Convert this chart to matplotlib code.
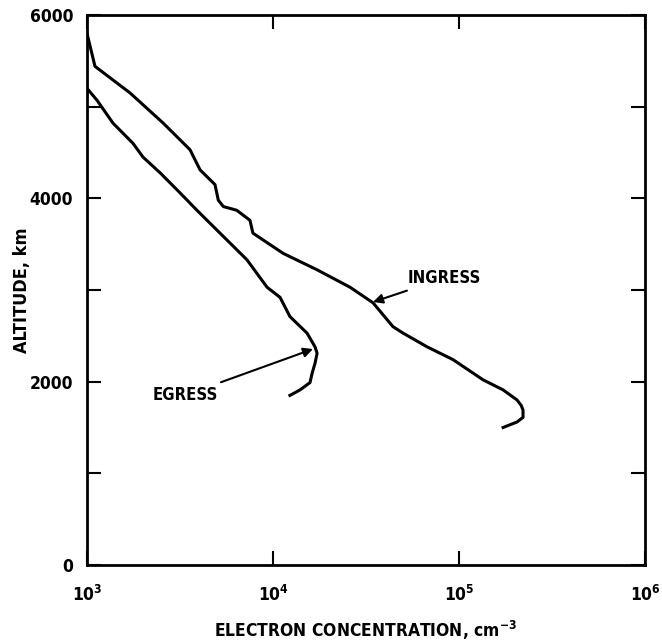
import matplotlib
matplotlib.use("Agg")
import matplotlib.pyplot as plt
from matplotlib.ticker import FixedLocator, NullFormatter

plt.rcParams['font.family'] = ['DejaVu Sans']
plt.rcParams['font.weight'] = 'bold'
plt.rcParams['axes.labelweight'] = 'bold'
plt.rcParams['font.stretch'] = 'condensed'
plt.rcParams['mathtext.default'] = 'regular'

# ingress profile: electron concentration (cm^-3) vs altitude (km)
ingress_ne = [1000, 1104, 1703, 2571, 3580, 4055, 4876, 5080, 5410, 6380, 7520, 7800,
              11330, 17260, 25950, 34500, 44150, 49980, 67300, 92900, 134600,
              172600, 205000, 216000, 220800, 220800, 205000, 172600]
ingress_alt = [5800, 5440, 5150, 4820, 4530, 4310, 4150, 3980, 3910, 3870, 3760, 3620,
               3400, 3220, 3030, 2860, 2600, 2530, 2380, 2240, 2020,
               1910, 1800, 1740, 1690, 1610, 1560, 1500]

# egress profile
egress_ne = [1000, 1132, 1380, 1767, 2000, 2467, 3162, 3900, 5190, 7240, 9290, 10910,
             12330, 15230, 16820, 17260, 16820, 16220, 15810, 13970, 12330]
egress_alt = [5200, 5070, 4820, 4600, 4450, 4280, 4060, 3870, 3620, 3330, 3030, 2920,
              2710, 2530, 2380, 2310, 2200, 2090, 1990, 1910, 1850]

x_ticks = [1e3, 1e4, 1e5, 1e6]
x_labels = ['$10^3$', '$10^4$', '$10^5$', '$10^6$']
y_major = [0, 2000, 4000, 6000]
y_minor = [1000, 3000, 5000]

fig = plt.figure(figsize=(6.62, 6.41), dpi=100)
ax = fig.add_axes([0.1314, 0.1186, 0.843, 0.858])

ax.plot(ingress_ne, ingress_alt, color='black', lw=2.2, solid_joinstyle='round')
ax.plot(egress_ne, egress_alt, color='black', lw=2.2, solid_joinstyle='round')

ax.set_xscale('log')
ax.set_xlim(1e3, 1e6)
ax.set_ylim(0, 6000)

ax.xaxis.set_major_locator(FixedLocator(x_ticks))
ax.set_xticklabels(x_labels)
ax.xaxis.set_minor_locator(FixedLocator([]))
ax.xaxis.set_minor_formatter(NullFormatter())
ax.yaxis.set_major_locator(FixedLocator(y_major))
ax.yaxis.set_minor_locator(FixedLocator(y_minor))

ax.tick_params(which='both', direction='in', top=True, right=True,
               width=1.5, length=10, labelsize=12.5)
ax.tick_params(axis='x', pad=14)
ax.tick_params(axis='y', pad=10)
for s in ax.spines.values():
    s.set_linewidth(2)

ax.set_xlabel('ELECTRON CONCENTRATION, cm$^{-3}$', fontsize=12.5)
ax.xaxis.set_label_coords(0.5, -0.098)
ax.set_ylabel('ALTITUDE, km', fontsize=13)
ax.yaxis.set_label_coords(-0.1, 0.5)

ax.annotate('EGRESS', xy=(16400, 2356), xytext=(2265, 1855),
            fontsize=12, ha='left', va='center',
            arrowprops=dict(arrowstyle='-|>', color='black', lw=1.5,
                            mutation_scale=14, shrinkA=2, shrinkB=0))
ax.annotate('INGRESS', xy=(34500, 2869), xytext=(53200, 3131),
            fontsize=12, ha='left', va='center',
            arrowprops=dict(arrowstyle='-|>', color='black', lw=1.5,
                            mutation_scale=14, shrinkA=2, shrinkB=0))

fig.savefig('out.png', dpi=100)
